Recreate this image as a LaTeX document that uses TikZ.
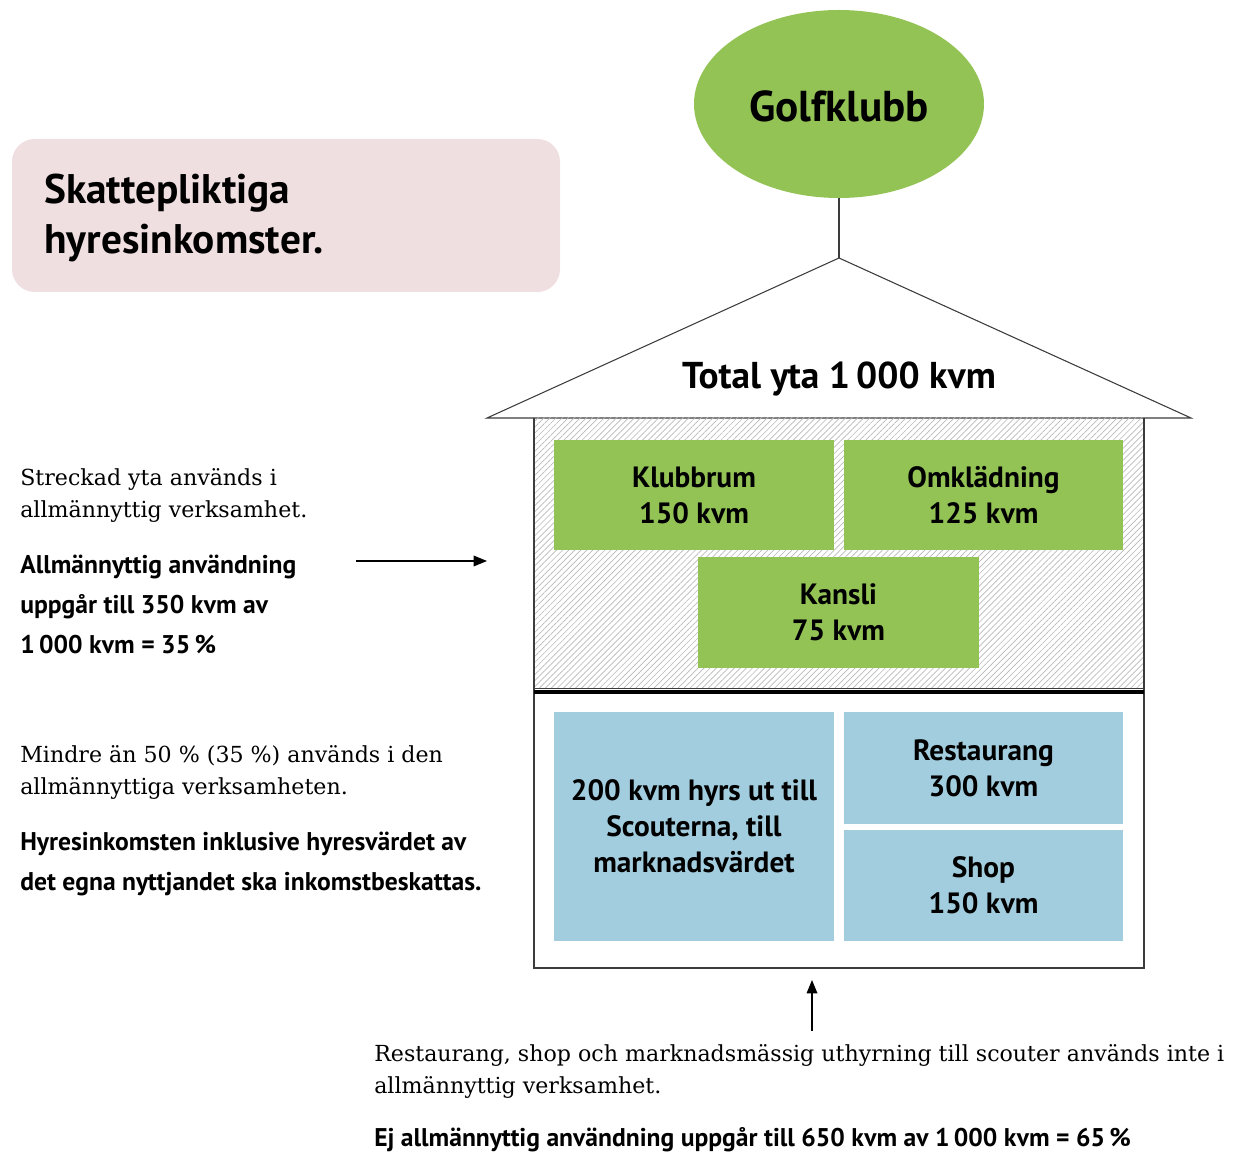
\documentclass[tikz,border=0pt]{standalone}
\usepackage{fontspec}
\setmainfont{DejaVu Serif}
\setsansfont{PT Sans}
\usetikzlibrary{patterns.meta,arrows.meta,shapes.geometric}
\definecolor{grass}{HTML}{93C355}
\definecolor{sky}{HTML}{A2CDDE}
\definecolor{blush}{HTML}{F0DFE0}
\definecolor{hatch}{HTML}{B8B8B8}
\definecolor{edge}{HTML}{3C3C3C}
\begin{document}
\begin{tikzpicture}[x=0.75pt,y=-0.75pt,
  room/.style={inner sep=0pt,align=center,font=\sffamily\bfseries\fontsize{22}{27}\selectfont},
  greenroom/.style={room,fill=grass},
  blueroom/.style={room,fill=sky},
  note/.style={anchor=north west,inner sep=0pt,align=left,font=\rmfamily\fontsize{16.6}{24}\selectfont},
  boldnote/.style={anchor=north west,inner sep=0pt,align=left,font=\sffamily\bfseries\fontsize{19.2}{30}\selectfont},
  pointer/.style={-{Triangle[length=10pt,width=8pt]},line width=0.9pt}]
\useasboundingbox (0,0) rectangle (1236,1155);

% title card
\node[fill=blush,rounded corners=17pt,minimum width=548*0.75pt,minimum height=153*0.75pt,inner sep=0pt]
  (card) at (286,215.5) {};
\node[anchor=west,inner sep=0pt,align=left,font=\sffamily\bfseries\fontsize{31}{37.5}\selectfont]
  (cardtext) at (44,218) {Skattepliktiga\\hyresinkomster.};

% club
\node[ellipse,fill=grass,minimum width=290*0.75pt,minimum height=188*0.75pt,inner sep=0pt]
  (club) at (839,104) {};
\node[font=\sffamily\bfseries\fontsize{32.4}{36}\selectfont,inner sep=0pt] (clubtext) at (839,106) {Golfklubb};

% roof
\coordinate (apex) at (839,258);
\coordinate (eaveL) at (487,418);
\coordinate (eaveR) at (1191,418);
\draw[edge,line width=0.8pt] (club.south) -- (apex);
\draw[edge,line width=0.8pt] (eaveL) -- (apex) -- (eaveR) -- cycle;
\node[font=\sffamily\bfseries\fontsize{28}{34}\selectfont,inner sep=0pt] (total) at (839,379) {Total yta 1\,000 kvm};

% upper floor, hatched
\fill[pattern={Lines[angle=45,distance=3.2pt,line width=0.5pt]},pattern color=hatch]
  (534,418) rectangle (1144,688);
\draw[edge,line width=0.8pt] (534,418) -- (534,968) -- (1144,968) -- (1144,418);
\draw[edge,line width=0.7pt] (534,688) -- (1144,688);
\draw[black,line width=2.4pt] (534,692) -- (1144,692);

\node[greenroom,minimum width=280*0.75pt,minimum height=110*0.75pt] (klubb) at (694,495) {Klubbrum\\150 kvm};
\node[greenroom,minimum width=279*0.75pt,minimum height=110*0.75pt] (omkl) at (983.5,495) {Omklädning\\125 kvm};
\node[greenroom,minimum width=281*0.75pt,minimum height=111*0.75pt] (kansli) at (838.5,612.5) {Kansli\\75 kvm};

% lower floor
\node[blueroom,minimum width=280*0.75pt,minimum height=229*0.75pt] (scout) at (694,826.5)
  {200 kvm hyrs ut till\\Scouterna, till\\marknadsvärdet};
\node[blueroom,minimum width=279*0.75pt,minimum height=112*0.75pt] (rest) at (983.5,768) {Restaurang\\300 kvm};
\node[blueroom,minimum width=279*0.75pt,minimum height=111*0.75pt] (shop) at (983.5,885.5) {Shop\\150 kvm};

% notes on the left
\node[note] (n1) at (20,468.5) {Streckad yta används i\\allmännyttig verksamhet.};
\node[boldnote] (n2) at (20,555) {Allmännyttig användning\\uppgår till 350 kvm av\\1\,000 kvm = 35\,\%};
\coordinate (arrowtail) at (356,561);
\coordinate (arrowhead) at (487,561);
\draw[pointer] (arrowtail) -- (arrowhead);

\node[note] (n3) at (20,745.5) {Mindre än 50 \% (35 \%) används i den\\allmännyttiga verksamheten.};
\node[boldnote] (n4) at (20,832) {Hyresinkomsten inklusive hyresvärdet av\\det egna nyttjandet ska inkomstbeskattas.};

% note below
\coordinate (uptail) at (812,1031);
\coordinate (uphead) at (812,980);
\draw[pointer] (uptail) -- (uphead);
\node[note] (n5) at (374,1044.5) {Restaurang, shop och marknadsmässig uthyrning till scouter används inte i\\allmännyttig verksamhet.};
\node[boldnote,anchor=west] (n6) at (374,1140) {Ej allmännyttig användning uppgår till 650 kvm av 1\,000 kvm = 65\,\%};
\end{tikzpicture}
\end{document}
